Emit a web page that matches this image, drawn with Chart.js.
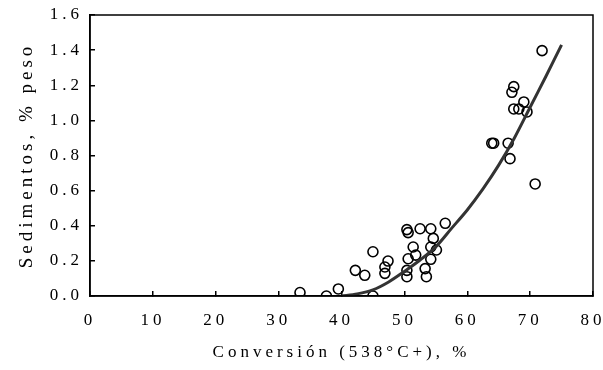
<!DOCTYPE html>
<html>
<head>
<meta charset="utf-8">
<script src="https://cdn.jsdelivr.net/npm/chart.js@4.4.1/dist/chart.umd.min.js"></script>
<style>
  html, body { margin: 0; padding: 0; background: #fff; }
  #wrap { width: 603px; height: 370px; position: relative; }
</style>
</head>
<body>
<div id="wrap"><canvas id="sedimentos"></canvas></div>
<script>
// puntos experimentales
const conversion = [33.4, 37.6, 39.5, 45.0, 42.2, 43.7, 45.0, 46.9, 46.9, 47.4,
    50.4, 50.6, 50.4, 50.4, 50.6, 51.4, 51.8, 52.5, 54.2, 54.6,
    54.2, 55.1, 54.2, 53.3, 53.5, 56.5,
    71.9, 67.4, 67.1, 69.0, 67.4, 68.2, 69.5, 63.9, 64.2, 66.5, 66.8, 70.8];
const sedimentos = [0.02, 0.0, 0.04, 0.0, 0.146, 0.118, 0.252, 0.165, 0.129, 0.199,
    0.378, 0.361, 0.146, 0.110, 0.212, 0.279, 0.233, 0.383, 0.383, 0.328,
    0.279, 0.262, 0.209, 0.156, 0.110, 0.414,
    1.397, 1.192, 1.160, 1.105, 1.065, 1.065, 1.048, 0.870, 0.870, 0.870, 0.782, 0.638];

// curva de ajuste
const curvaX = [40, 42.5, 45, 47.5, 50, 52.5, 55, 57.5, 60, 62.5, 65, 67.5, 70, 72.5, 75];
const curvaY = [0, 0.012, 0.035, 0.08, 0.14, 0.205, 0.28, 0.385, 0.49, 0.61, 0.745, 0.9, 1.075, 1.25, 1.43];

const xTicks = [0, 10, 20, 30, 40, 50, 60, 70, 80];
const yTicks = [0.0, 0.2, 0.4, 0.6, 0.8, 1.0, 1.2, 1.4, 1.6];

const fuente = "'Liberation Serif', 'Times New Roman', serif";
const espaciado = '4px';

const espaciadoPlugin = {
    id: 'espaciado',
    beforeLayout(chart) { chart.ctx.letterSpacing = espaciado; },
    beforeDraw(chart) { chart.ctx.letterSpacing = espaciado; }
};

const marcoPlugin = {
    id: 'marco',
    afterDraw(chart) {
        const a = chart.chartArea;
        const ctx = chart.ctx;
        ctx.save();
        ctx.strokeStyle = '#000';
        ctx.lineWidth = 1.5;
        ctx.strokeRect(a.left, a.top, a.right - a.left, a.bottom - a.top);
        ctx.restore();
    }
};

const ctxSed = document.getElementById('sedimentos').getContext('2d');

const grafico = new Chart(ctxSed, {
    type: 'scatter',
    data: {
        datasets: [{
                label: 'Datos',
                data: conversion.map((x, i) => ({ x: x, y: sedimentos[i] })),
                pointStyle: 'circle',
                pointRadius: 5,
                pointBorderWidth: 1.6,
                borderColor: '#000',
                backgroundColor: 'rgba(0,0,0,0)',
                order: 2
            },
            {
                label: 'Ajuste',
                data: curvaX.map((x, i) => ({ x: x, y: curvaY[i] })),
                showLine: true,
                pointRadius: 0,
                borderColor: '#333',
                borderWidth: 3,
                tension: 0.3,
                order: 1
            }
        ]
    },
    options: {
        responsive: true,
        maintainAspectRatio: false,
        animation: false,
        layout: {
            autoPadding: false,
            padding: { left: 0, right: 10, top: 15, bottom: 0 }
        },
        plugins: {
            legend: { display: false },
            tooltip: { enabled: false }
        },
        scales: {
            x: {
                type: 'linear',
                min: 0,
                max: 80,
                afterBuildTicks: (scale) => { scale.ticks = xTicks.map(v => ({ value: v })); },
                afterFit: (scale) => {
                    scale.height = 74;
                    scale.paddingLeft = 0;
                    scale.paddingRight = 0;
                },
                grid: {
                    drawOnChartArea: false,
                    tickLength: -5,
                    color: '#000',
                    lineWidth: 1.5
                },
                border: { color: '#000', width: 1.5 },
                ticks: {
                    color: '#000',
                    padding: 19,
                    maxRotation: 0,
                    font: { size: 17, family: fuente }
                },
                title: {
                    display: true,
                    text: 'Conversión (538°C+), %',
                    color: '#000',
                    padding: { top: 0, bottom: 7 },
                    font: { size: 17, family: fuente }
                }
            },
            y: {
                type: 'linear',
                min: 0,
                max: 1.6,
                afterBuildTicks: (scale) => { scale.ticks = yTicks.map(v => ({ value: v })); },
                afterFit: (scale) => {
                    scale.width = 90;
                    scale.paddingTop = 0;
                    scale.paddingBottom = 0;
                },
                grid: {
                    drawOnChartArea: false,
                    tickLength: -5,
                    color: '#000',
                    lineWidth: 1.5
                },
                border: { color: '#000', width: 1.5 },
                ticks: {
                    color: '#000',
                    padding: 12,
                    callback: function (value) {
                        return value.toFixed(1);
                    },
                    font: { size: 17, family: fuente }
                },
                title: {
                    display: true,
                    text: 'Sedimentos, % peso',
                    color: '#000',
                    padding: { top: 16, bottom: 0 },
                    font: { size: 19, family: fuente }
                }
            }
        }
    },
    plugins: [espaciadoPlugin, marcoPlugin]
});
</script>
</body>
</html>
